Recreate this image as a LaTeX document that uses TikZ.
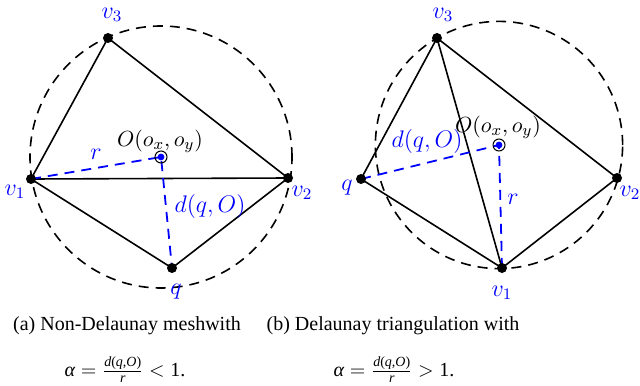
\documentclass[tikz,border=0pt]{standalone}
\usepackage{fontspec}
\newfontfamily\tms{Liberation Serif}
\begin{document}
\begin{tikzpicture}[x=0.5pt,y=-0.5pt,
  vtx/.style={circle,fill=black,inner sep=0pt,minimum size=5pt},
  ctr/.style={circle,fill=blue,inner sep=0pt,minimum size=3.4pt},
  ring/.style={circle,draw=black,line width=0.5pt,inner sep=0pt,minimum size=6pt},
  edge/.style={line width=0.8pt},
  circ/.style={line width=0.8pt,dash pattern=on 5pt off 3.5pt},
  bl/.style={blue,line width=0.9pt,dash pattern=on 5pt off 3.5pt},
  lab/.style={text=blue,font=\large,inner sep=0pt},
  olab/.style={font=\fontsize{11}{13}\selectfont,inner sep=0pt},
  captxt/.style={font=\tms\fontsize{10}{12}\selectfont,inner sep=0pt}
]
\useasboundingbox (0,0) rectangle (640,385);
% ---------- (a) ----------
\draw[circ] (161,157) circle[radius=65.5pt];
\coordinate (Oa) at (161,157);
\coordinate (pv1a) at (31,179);
\coordinate (pv2a) at (288,178);
\coordinate (pv3a) at (108,38);
\coordinate (pqa) at (172,268);
\draw[edge] (pv1a) -- (pv3a) -- (pv2a) -- (pv1a) -- (pqa) -- (pv2a);
\draw[bl] (pv1a) -- (Oa) -- (pqa);
\node[vtx] (v1a) at (pv1a) {};
\node[vtx] (v2a) at (pv2a) {};
\node[vtx] (v3a) at (pv3a) {};
\node[vtx] (qa) at (pqa) {};
\node[ring] (ra) at (Oa) {};
\node[ctr] (ca) at (Oa) {};
\node[lab] (lv3a) at (112,15) {$v_3$};
\node[lab] (lv1a) at (15,192) {$v_1$};
\node[lab] (lv2a) at (302,193) {$v_2$};
\node[lab] (lqa) at (176,292) {$q$};
\node[lab] (lra) at (96,154) {$r$};
\node[lab] (lda) at (210,206) {$d(q,O)$};
\node[olab] (loa) at (160,141) {$O(o_x,o_y)$};
% ---------- (b) ----------
\draw[circ] (499,145) circle[radius=61.8pt];
\coordinate (Ob) at (499,145);
\coordinate (pv1b) at (502,268);
\coordinate (pv2b) at (617,178);
\coordinate (pv3b) at (437,38);
\coordinate (pqb) at (361,179);
\draw[edge] (pqb) -- (pv3b) -- (pv2b) -- (pv1b) -- (pqb);
\draw[edge] (pv3b) -- (pv1b);
\draw[bl] (pqb) -- (Ob) -- (pv1b);
\node[vtx] (v1b) at (pv1b) {};
\node[vtx] (v2b) at (pv2b) {};
\node[vtx] (v3b) at (pv3b) {};
\node[vtx] (qb) at (pqb) {};
\node[ring] (rb) at (Ob) {};
\node[ctr] (cb) at (Ob) {};
\node[lab] (lv3b) at (443,15) {$v_3$};
\node[lab] (lv1b) at (502,293) {$v_1$};
\node[lab] (lv2b) at (630,193) {$v_2$};
\node[lab] (lqb) at (347,188) {$q$};
\node[lab] (lrb) at (513,199) {$r$};
\node[lab] (ldb) at (427,141) {$d(q,O)$};
\node[olab] (lob) at (498,127) {$O(o_x,o_y)$};
% ---------- captions ----------
\node[captxt] (ca1) at (127,326) {(a) Non-Delaunay meshwith};
\node[captxt] (ca2) at (125,370) {$\mbox{\tms\itshape α} = \frac{\mbox{\tms\fontsize{7}{8}\selectfont\itshape d\upshape(\itshape q\upshape,\itshape O\upshape)}}{\mbox{\tms\fontsize{7}{8}\selectfont\itshape r}} < \mbox{\tms 1.}$};
\node[captxt] (cb1) at (393,326) {(b) Delaunay triangulation with};
\node[captxt] (cb2) at (394,370) {$\mbox{\tms\itshape α} = \frac{\mbox{\tms\fontsize{7}{8}\selectfont\itshape d\upshape(\itshape q\upshape,\itshape O\upshape)}}{\mbox{\tms\fontsize{7}{8}\selectfont\itshape r}} > \mbox{\tms 1.}$};
\end{tikzpicture}
\end{document}
